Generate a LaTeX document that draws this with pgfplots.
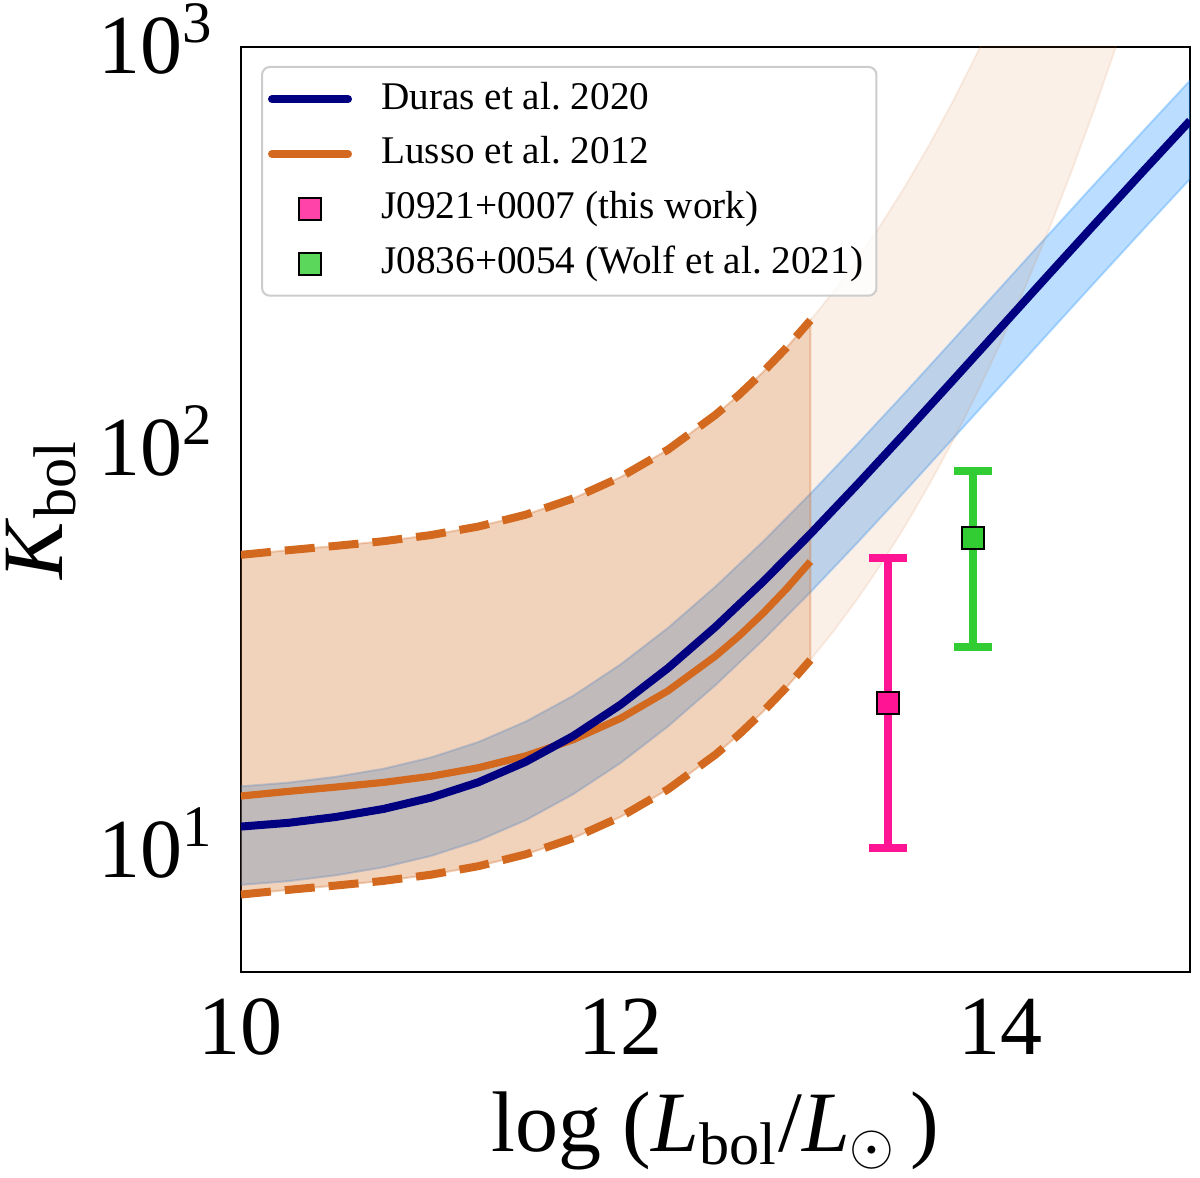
\documentclass[border=0pt]{standalone}
\usepackage{amsmath}
\usepackage{fontspec}
\setmainfont{Liberation Serif}
\usepackage{pgfplots}
\pgfplotsset{compat=1.18}
\definecolor{navyc}{RGB}{0,0,128}
\definecolor{choc}{RGB}{210,105,30}
\definecolor{dodger}{RGB}{30,144,255}
\definecolor{dpink}{RGB}{255,20,147}
\definecolor{lgreen}{RGB}{50,205,50}
\definecolor{lgray}{RGB}{204,204,204}
\newcommand{\tl}[1]{\textrm{#1}}
\begin{document}
\begin{tikzpicture}
\useasboundingbox (-60.25pt,-51.5pt) rectangle (239.75pt,243pt);
\begin{axis}[
  at={(0,0)}, anchor=south west,
  scale only axis, width=237.25pt, height=231.25pt,
  xmin=10, xmax=15, ymode=log, ymin=5, ymax=1000,
  axis line style={black, line width=0.6pt},
  major tick length=0pt, minor tick length=0pt,
  xtick={10,12,14}, xticklabels={\tl{10},\tl{12},\tl{14}},
  ytick={10,100,1000},
  yticklabels={\tl{10}$^{\tl{1}}$,\tl{10}$^{\tl{2}}$,\tl{10}$^{\tl{3}}$},
  ticklabel style={font=\rmfamily\fontsize{21}{25}\selectfont},
  xticklabel style={inner sep=0pt, yshift=-6.5pt},
  yticklabel style={inner sep=0pt, xshift=-6.5pt, yshift=2pt},
  xlabel={\tl{log}~(\textit{L}$_{\tl{bol}}$/\textit{L}$_{\odot}$\,)},
  ylabel={\textit{K}$_{\tl{bol}}$},
  every axis x label/.style={at={(axis description cs:0.5,-0.1719)}, anchor=center, font=\rmfamily\fontsize{21.5}{26}\selectfont},
  every axis y label/.style={at={(axis description cs:-0.2103,0.5)}, rotate=90, anchor=center, font=\rmfamily\fontsize{21.5}{26}\selectfont},
  legend style={at={(axis description cs:0.0211,0.9795)}, anchor=north west,
    draw=lgray, line width=0.5pt, rounded corners=2pt, fill=white, fill opacity=0.8, text opacity=1,
    font=\rmfamily\fontsize{9.8}{11}\selectfont, inner xsep=1.5pt, inner ysep=1.2pt,
    nodes={inner sep=1.85pt, text height=0.75em, text depth=0.25em},
    column sep=5.5pt, row sep=0pt},
  legend cell align=left,
  legend image code/.code={\draw[mark repeat=2,mark phase=2,#1] plot coordinates {(0pt,0pt) (9.5pt,0pt) (19pt,0pt)};},
]
\addlegendimage{navyc, line width=2pt, line cap=round}
\addlegendentry{Duras et al.\ 2020}
\addlegendimage{choc, line width=2pt, line cap=round}
\addlegendentry{Lusso et al.\ 2012}
\addlegendimage{only marks, mark=square*, mark size=2.75pt, mark options={fill=dpink, draw=black, line width=0.5pt}}
\addlegendentry{J0921+0007 (this work)}
\addlegendimage{only marks, mark=square*, mark size=2.75pt, mark options={fill=lgreen, draw=black, line width=0.5pt}}
\addlegendentry{J0836+0054 (Wolf et al.\ 2021)}

% Duras band
\addplot[forget plot, fill=dodger, fill opacity=0.3, draw=dodger, draw opacity=0.3, line width=0.5pt] coordinates {
(10,14.48) (10.25,14.79) (10.5,15.30) (10.75,16.01) (11,17.08) (11.25,18.66) (11.5,20.98) (11.75,24.32)
(12,29.11) (12.25,35.89) (12.5,45.46) (12.75,58.82) (13,77.40) (13.25,103.1) (13.5,138.2) (13.75,186.3)
(14,251.5) (14.25,339.5) (14.5,457.6) (14.75,615.4) (15,825.1)
(15,469.3) (14.75,350.0) (14.5,260.3) (14.25,193.1) (14,143.1) (13.75,106.0) (13.5,78.63) (13.25,58.62)
(13,44.03) (12.75,33.46) (12.5,25.86) (12.25,20.42) (12,16.56) (11.75,13.84) (11.5,11.93) (11.25,10.61)
(11,9.718) (10.75,9.109) (10.5,8.701) (10.25,8.414) (10,8.235)
};

% Lusso dark band 10-13
\addplot[forget plot, fill=choc, fill opacity=0.3, draw=choc, draw opacity=0.3, line width=0.5pt] coordinates {
(10,54.54) (10.25,56.01) (10.5,57.41) (10.75,58.96) (11,61.07) (11.25,64.13) (11.5,68.63) (11.75,75.32)
(12,85.12) (12.25,99.65) (12.5,121.6) (12.625,136.5) (12.75,155.3) (12.875,178.9) (13,208.9)
(13,29.86) (12.875,25.57) (12.75,22.20) (12.625,19.51) (12.5,17.37) (12.25,14.24) (12,12.16) (11.75,10.76)
(11.5,9.808) (11.25,9.165) (11,8.727) (10.75,8.425) (10.5,8.204) (10.25,8.004) (10,7.794)
};

% Lusso light extrapolated band 13-15
\addplot[forget plot, fill=choc, fill opacity=0.1, draw=choc, draw opacity=0.1, line width=0.5pt] coordinates {
(13,208.9) (13.125,247.4) (13.25,297.5) (13.375,363.3) (13.5,451.1) (13.625,569.3) (13.75,731.7) (13.875,957.8)
(14,1277) (14.125,1738)
(14.625,1049.6) (14.5,708.3) (14.375,489.0) (14.25,344.8) (14.125,248.4) (14,182.6) (13.875,136.9)
(13.75,104.6) (13.625,81.35) (13.5,64.46) (13.375,51.92) (13.25,42.51) (13.125,35.36) (13,29.86)
};

% Lusso dashed bounds
\addplot[forget plot, choc, line width=2pt, dash pattern=on 7.5pt off 3.5pt] coordinates {
(10,54.54) (10.25,56.01) (10.5,57.41) (10.75,58.96) (11,61.07) (11.25,64.13) (11.5,68.63) (11.75,75.32)
(12,85.12) (12.25,99.65) (12.5,121.6) (12.625,136.5) (12.75,155.3) (12.875,178.9) (13,208.9)
};
\addplot[forget plot, choc, line width=2pt, dash pattern=on 7.5pt off 3.5pt] coordinates {
(10,7.794) (10.25,8.004) (10.5,8.204) (10.75,8.425) (11,8.727) (11.25,9.165) (11.5,9.808) (11.75,10.76)
(12,12.16) (12.25,14.24) (12.5,17.37) (12.625,19.51) (12.75,22.20) (12.875,25.57) (13,29.86)
};

% Lusso solid
\addplot[forget plot, choc, line width=1.8pt] coordinates {
(10,13.70) (10.25,14.07) (10.5,14.42) (10.75,14.81) (11,15.34) (11.25,16.11) (11.5,17.24) (11.75,18.92)
(12,21.38) (12.25,25.03) (12.5,30.54) (12.625,34.30) (12.75,39.02) (12.875,44.95) (13,52.48)
};

% Duras line
\addplot[forget plot, navyc, line width=2pt] coordinates {
(10,11.5) (10.25,11.75) (10.5,12.15) (10.75,12.72) (11,13.57) (11.25,14.82) (11.5,16.665) (11.75,19.32)
(12,23.12) (12.25,28.51) (12.5,36.11) (12.75,46.72) (13,61.48) (13.25,81.86) (13.5,109.8) (13.75,148.0)
(14,199.8) (14.25,269.7) (14.5,363.5) (14.75,488.8) (15,655.4)
};

% error bars
\addplot[forget plot, draw=none, mark=none,
  error bars/.cd, y dir=both, y explicit,
  error bar style={line width=2pt, dpink},
  error mark options={rotate=90, dpink, mark size=4.75pt, line width=2pt}]
  coordinates {(13.41,23.3) += (0,30.2) -= (0,13.1)};
\addplot[forget plot, draw=none, mark=none,
  error bars/.cd, y dir=both, y explicit,
  error bar style={line width=2pt, lgreen},
  error mark options={rotate=90, lgreen, mark size=4.75pt, line width=2pt}]
  coordinates {(13.857,60.2) += (0,28.1) -= (0,28.1)};

% points
\addplot[forget plot, only marks, mark=square*, mark size=2.75pt, mark options={fill=dpink, draw=black, line width=0.5pt}]
  coordinates {(13.41,23.3)};
\addplot[forget plot, only marks, mark=square*, mark size=2.75pt, mark options={fill=lgreen, draw=black, line width=0.5pt}]
  coordinates {(13.857,60.2)};
\end{axis}
\end{tikzpicture}
\end{document}
